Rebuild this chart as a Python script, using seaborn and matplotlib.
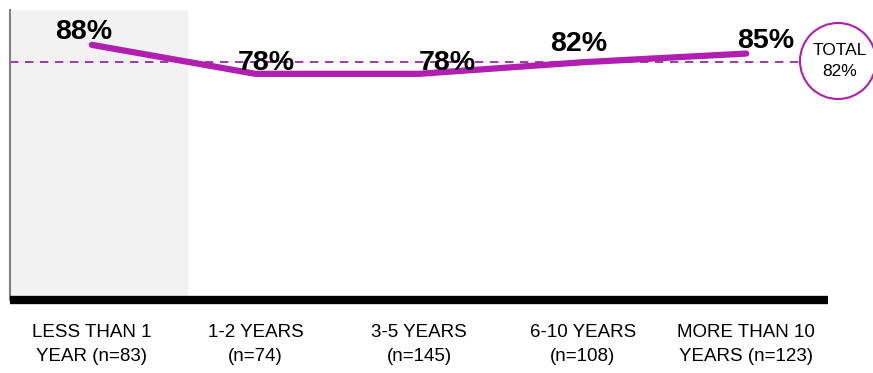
import numpy as np
import pandas as pd
import matplotlib.pyplot as plt
import seaborn as sns
from matplotlib.patches import Ellipse

# data
categories = ["LESS THAN 1\nYEAR (n=83)", "1-2 YEARS\n(n=74)", "3-5 YEARS\n(n=145)",
              "6-10 YEARS\n(n=108)", "MORE THAN 10\nYEARS (n=123)"]
values = [88, 78, 78, 82, 85]
total = 82

# hand placed label nudges (points), like the original slide
label_dx = [-6, 8, 20, -3, 14]
label_dy = [4, 3, 3, 8, 4]

df = pd.DataFrame({"pos": np.arange(len(categories)), "pct": values})

sns.set_style("white")
plt.rcParams['font.family'] = ['Liberation Sans', 'DejaVu Sans']

fig = plt.figure(figsize=(8.73, 3.73), dpi=100)
ax = fig.add_axes([0.0115, 0.196, 0.937, 0.777])

# shaded first category
ax.axvspan(-0.5, 0.58, color="#f2f2f2", zorder=0)

# total reference line
ax.axhline(total, color="#8b1a9a", lw=1.2, ls=(0, (5, 4)), zorder=1)

sns.lineplot(data=df, x="pos", y="pct", ax=ax, color="#b01fb0", lw=4.5,
             solid_capstyle="round", zorder=3)

for x, v, dx, dy in zip(df["pos"], df["pct"], label_dx, label_dy):
    ax.annotate(f"{v}%", (x, v), xytext=(dx, dy), textcoords="offset points",
                ha="center", va="baseline", fontsize=20.5, fontweight="bold",
                color="black", zorder=4)

ax.set_xlim(-0.5, 4.5)
ax.set_ylim(0, 100)
ax.set_xticks(df["pos"])
ax.set_xticklabels(categories, fontsize=13.5, linespacing=1.55, color="black")
ax.tick_params(axis="x", length=0, pad=17)
ax.set_yticks([])
ax.set_xlabel("")
ax.set_ylabel("")

for s in ["top", "right"]:
    ax.spines[s].set_visible(False)
ax.spines["left"].set_color("#808080")
ax.spines["left"].set_linewidth(1.5)
ax.spines["bottom"].set_color("black")
ax.spines["bottom"].set_linewidth(6)
ax.spines["bottom"].set_capstyle("butt")

# total bubble
circ = Ellipse((838 / 873, 1 - 61 / 373), 76 / 873, 76 / 373, transform=fig.transFigure,
               facecolor="white", edgecolor="#b01fb0", lw=1.5, zorder=5)
fig.patches.append(circ)
fig.text(840 / 873, 1 - 61 / 373, f"TOTAL\n{total}%", ha="center", va="center",
         fontsize=12.5, linespacing=1.45, color="black", zorder=6)

fig.savefig("out.png", dpi=100)
